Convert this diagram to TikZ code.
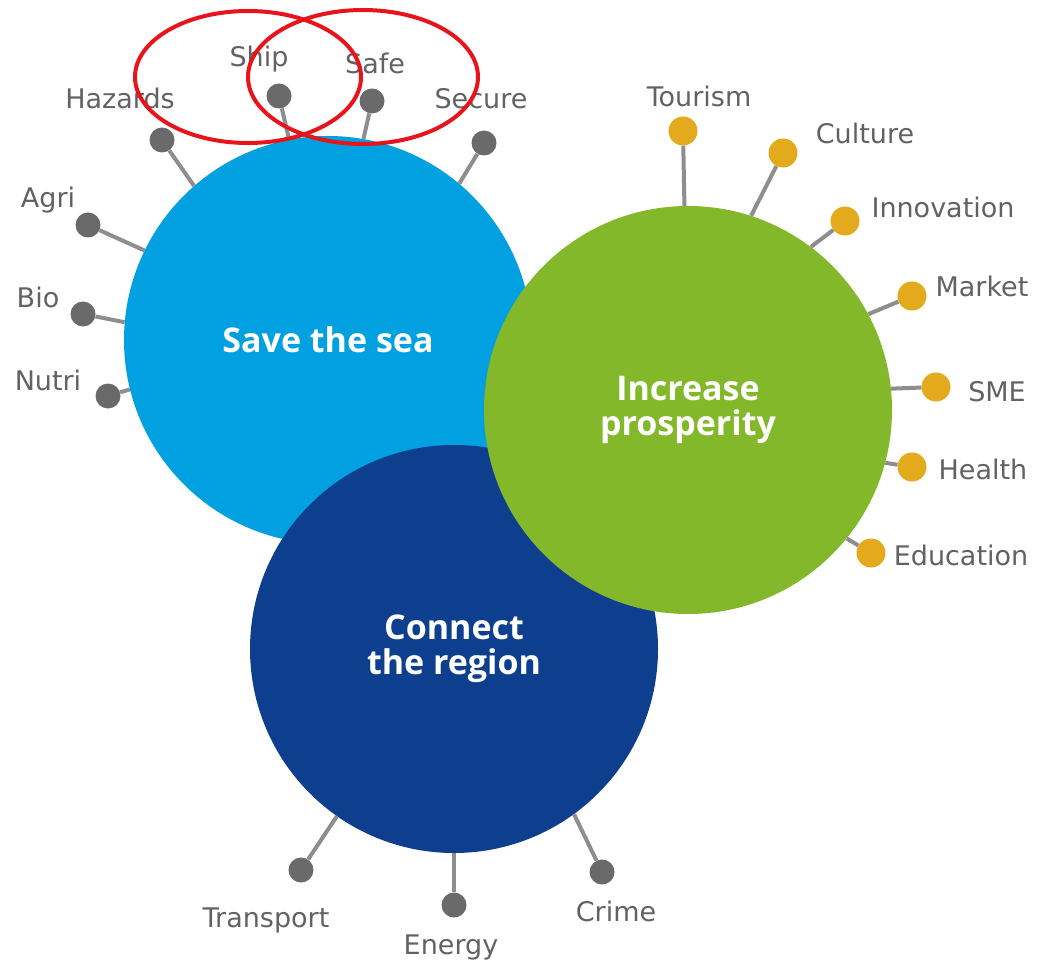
\documentclass[tikz,border=0pt]{standalone}
\usepackage{fontspec}
\newfontfamily\labelfont{DejaVu Sans}
\newfontfamily\bubblefont{Open Sans}
\definecolor{SEAcolor}{HTML}{00A0E1}
\definecolor{REGIONcolor}{HTML}{0E3F8F}
\definecolor{PROScolor}{HTML}{82B82A}
\definecolor{DOTgrey}{HTML}{6A6A6A}
\definecolor{DOTyellow}{HTML}{E4AA1E}
\definecolor{STALKcolor}{HTML}{8E8E8E}
\definecolor{TEXTgrey}{HTML}{626262}
\definecolor{RINGcolor}{HTML}{E8141B}

\begin{document}
\begin{tikzpicture}[x=1pt, y=-1pt]

    \tikzset{%
        bubble/.style={circle, inner sep=0pt, minimum size=408pt, text=white, align=center,
                font=\bubblefont\bfseries\fontsize{34}{35}\selectfont},
        pin/.style={circle, inner sep=0pt, minimum size=25pt},
        bigpin/.style={pin, minimum size=29pt},
        tag/.style={inner sep=0pt, text=TEXTgrey, text height=19.5pt, text depth=0pt,
                font=\labelfont\fontsize{27}{30}\selectfont},
        stalk/.style={draw=STALKcolor, line width=4pt},
        ring/.style={draw=RINGcolor, line width=4pt}
    }

    \useasboundingbox (0, 0) rectangle (1038, 965);

    \node [bubble, fill=SEAcolor] (sea) at (328, 340) {Save the sea};
    \node [bubble, fill=REGIONcolor] (region) at (454, 649) {Connect\\the region};
    \node [bubble, fill=PROScolor] (prosperity) at (688, 410) {Increase\\prosperity};

    \foreach \id/\txt/\px/\py/\tx/\ty/\ang in {%
            hazards/Hazards/162/140/120/99/131,
            ship/Ship/279/96/259/57/101,
            safe/Safe/372/101/375/64/80,
            secure/Secure/484/143/481/99/50,
            agri/Agri/88/225/48/198/154,
            bio/Bio/83/314/38/298/175,
            nutri/Nutri/108/396/48/381/194} {%
            \node [pin, fill=DOTgrey] (\id) at (\px, \py) {};
            \node [tag] (\id-tag) at (\tx, \ty) {\txt};
            \draw [stalk] (\id) -- (sea.\ang);
        }

    \foreach \id/\txt/\px/\py/\tx/\ty/\ang in {%
            tourism/Tourism/683/131/699/97/91,
            culture/Culture/783/153/865/134/72,
            innovation/Innovation/845/221/943/208/53,
            market/Market/912/296/982/287/28,
            sme/SME/936/387/997/392/6,
            health/Health/912/467/983/470/-15,
            education/Education/871/553/961/556/-39} {%
            \node [bigpin, fill=DOTyellow] (\id) at (\px, \py) {};
            \node [tag] (\id-tag) at (\tx, \ty) {\txt};
            \draw [stalk] (\id) -- (prosperity.\ang);
        }

    \foreach \id/\txt/\px/\py/\tx/\ty/\ang in {%
            transport/Transport/301/870/266/918/235,
            energy/Energy/454/905/451/945/270,
            crime/Crime/602/872/616/912/306} {%
            \node [pin, fill=DOTgrey] (\id) at (\px, \py) {};
            \node [tag] (\id-tag) at (\tx, \ty) {\txt};
            \draw [stalk] (\id) -- (region.\ang);
        }

    % the two marks round Ship and Safe
    \draw [ring] (248, 77) ellipse [x radius=113pt, y radius=66pt];
    \draw [ring] (363, 77) ellipse [x radius=115pt, y radius=67pt];

\end{tikzpicture}
\end{document}
